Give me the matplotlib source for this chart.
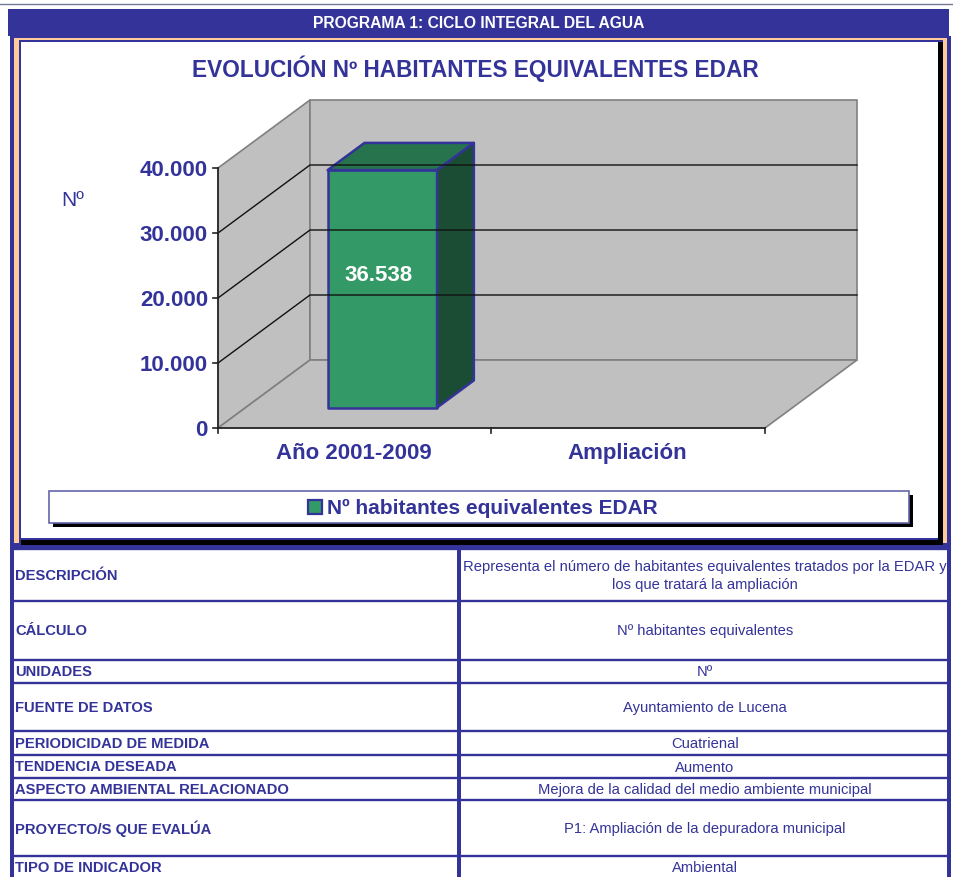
# plot.py
import matplotlib
matplotlib.use("Agg")
import matplotlib.pyplot as plt
from matplotlib.patches import Polygon, Rectangle

plt.rcParams["font.family"] = ["Liberation Sans", "DejaVu Sans"]

NAVY = "#333399"
ORANGE = "#FFCC99"
WALL = "#C0C0C0"

categories = ["Año 2001-2009", "Ampliación"]
values = [36538, None]
value_labels = ["36.538", ""]
y_ticks = [0, 10000, 20000, 30000, 40000]
y_tick_labels = ["0", "10.000", "20.000", "30.000", "40.000"]
series_name = "Nº habitantes equivalentes EDAR"

row_names = ["DESCRIPCIÓN", "CÁLCULO", "UNIDADES", "FUENTE DE DATOS",
             "PERIODICIDAD DE MEDIDA", "TENDENCIA DESEADA",
             "ASPECTO AMBIENTAL RELACIONADO", "PROYECTO/S QUE EVALÚA",
             "TIPO DE INDICADOR"]
row_texts = ["Representa el número de habitantes equivalentes tratados por la EDAR y\nlos que tratará la ampliación",
             "Nº habitantes equivalentes", "Nº", "Ayuntamiento de Lucena",
             "Cuatrienal", "Aumento",
             "Mejora de la calidad del medio ambiente municipal",
             "P1: Ampliación de la depuradora municipal", "Ambiental"]
row_lines = [549, 601, 660, 683, 731, 755, 778, 800, 856, 879]

fig = plt.figure(figsize=(9.54, 8.77), dpi=100)
ax = fig.add_axes([0, 0, 1, 1])
ax.set_xlim(0, 954)
ax.set_ylim(877, 0)
ax.axis("off")

# 3d chart geometry in pixels
X0, Y0 = 218, 428
CAT_W = 273.5
DX, DY = 92, -68
PX_PER_UNIT = 260 / 40000


def proj(cat, val, depth):
    return (X0 + cat * CAT_W + depth * DX, Y0 - val * PX_PER_UNIT + depth * DY)


def poly(points, **kw):
    ax.add_patch(Polygon(points, closed=True, **kw))


def frame(x0, y0, x1, y1, color, **kw):
    ax.add_patch(Rectangle((x0, y0), x1 - x0, y1 - y0, facecolor=color, edgecolor="none", **kw))


# page furniture
ax.plot([0, 954], [3.5, 3.5], color="#777799", lw=1)
frame(8, 9, 949, 36, NAVY)
ax.text(479, 24, "PROGRAMA 1: CICLO INTEGRAL DEL AGUA", color="white", fontsize=11.25,
        fontweight="bold", ha="center", va="center")

# chart frame
frame(10, 36, 951, 548, NAVY)
frame(14, 38, 947, 543, ORANGE)
frame(19, 40, 943, 545, NAVY)
frame(21, 42, 943, 545, "black")
frame(21, 42, 938, 538, "white")
frame(21, 538, 938, 540, NAVY)

ax.text(475, 77, "EVOLUCIÓN Nº HABITANTES EQUIVALENTES EDAR", color=NAVY, fontsize=16.25,
        fontweight="bold", ha="center", va="baseline")
ax.text(73, 200, "Nº", color=NAVY, fontsize=15, ha="center", va="center")

# walls and floor
ymax = y_ticks[-1]
ncat = len(categories)
poly([proj(0, 0, 0), proj(0, ymax, 0), proj(0, ymax, 1), proj(0, 0, 1)],
     facecolor=WALL, edgecolor="#808080", lw=1.2)
poly([proj(0, 0, 1), proj(0, ymax, 1), proj(ncat, ymax, 1), proj(ncat, 0, 1)],
     facecolor=WALL, edgecolor="#808080", lw=1.2)
poly([proj(0, 0, 0), proj(ncat, 0, 0), proj(ncat, 0, 1), proj(0, 0, 1)],
     facecolor=WALL, edgecolor="#808080", lw=1.2)

# gridlines
for t in y_ticks[1:-1]:
    a, b, c = proj(0, t, 0), proj(0, t, 1), proj(ncat, t, 1)
    ax.plot([a[0], b[0], c[0]], [a[1], b[1], c[1]], color="#111111", lw=1)

# axes
a, b = proj(0, 0, 0), proj(0, ymax, 0)
ax.plot([a[0], b[0]], [a[1], b[1]], color="#222222", lw=1.2)
c = proj(ncat, 0, 0)
ax.plot([a[0], c[0]], [a[1], c[1]], color="#222222", lw=1.2)
for t, lab in zip(y_ticks, y_tick_labels):
    x, y = proj(0, t, 0)
    ax.plot([x - 5, x], [y, y], color="#222222", lw=1.2)
    ax.text(x - 10, y + 8, lab, color=NAVY, fontsize=16, fontweight="bold", ha="right", va="baseline")
for i in range(ncat + 1):
    x, y = proj(i, 0, 0)
    ax.plot([x, x], [y, y + 5], color="#222222", lw=1.2)
for i, cat in enumerate(categories):
    x, y = proj(i + 0.5, 0, 0)
    ax.text(x - 1, 459, cat, color=NAVY, fontsize=16, fontweight="bold", ha="center", va="baseline")

# bars
for i, v in enumerate(values):
    if v is None:
        continue
    l, r = i + 0.3, i + 0.7
    d0, d1 = 0.3, 0.7
    edge = dict(edgecolor=NAVY, lw=1.8, joinstyle="round")
    poly([proj(l, 0, d0), proj(l, v, d0), proj(r, v, d0), proj(r, 0, d0)], facecolor="#339966", **edge)
    poly([proj(l, v, d0), proj(l, v, d1), proj(r, v, d1), proj(r, v, d0)], facecolor="#26734D", **edge)
    poly([proj(r, 0, d0), proj(r, v, d0), proj(r, v, d1), proj(r, 0, d1)], facecolor="#1A4D33", **edge)
    cx = proj(i + 0.5, v / 2, d0)[0]
    cy = proj(i + 0.5, v / 2, (d0 + d1) / 2)[1]
    ax.text(cx - 4, cy, value_labels[i], color="white", fontsize=16, fontweight="bold",
            ha="center", va="center")

# legend box
frame(53, 495, 913, 527, "black")
ax.add_patch(Rectangle((49, 491), 860, 32, facecolor="white", edgecolor="#6666AA", lw=1.2))
ax.add_patch(Rectangle((308, 500), 14, 14, facecolor="#339966", edgecolor=NAVY, lw=1.6))
ax.text(327, 508, series_name, color=NAVY, fontsize=15, fontweight="bold", ha="left", va="center")

# table below the chart
frame(10, 546, 14, 877, NAVY)
frame(947, 546, 951, 877, NAVY)
frame(457, 549, 461, 877, NAVY)
for y in row_lines[:-1]:
    ax.plot([12, 949], [y, y], color=NAVY, lw=1.7)
for i, (name, txt) in enumerate(zip(row_names, row_texts)):
    ym = (row_lines[i] + row_lines[i + 1]) / 2
    ax.text(15, ym + 0.5, name, color=NAVY, fontsize=10.65, fontweight="bold", ha="left", va="center")
    ax.text(705, ym + 1, txt, color=NAVY, fontsize=10.6, ha="center", va="center", linespacing=1.45)

fig.savefig("out.png", dpi=100)
